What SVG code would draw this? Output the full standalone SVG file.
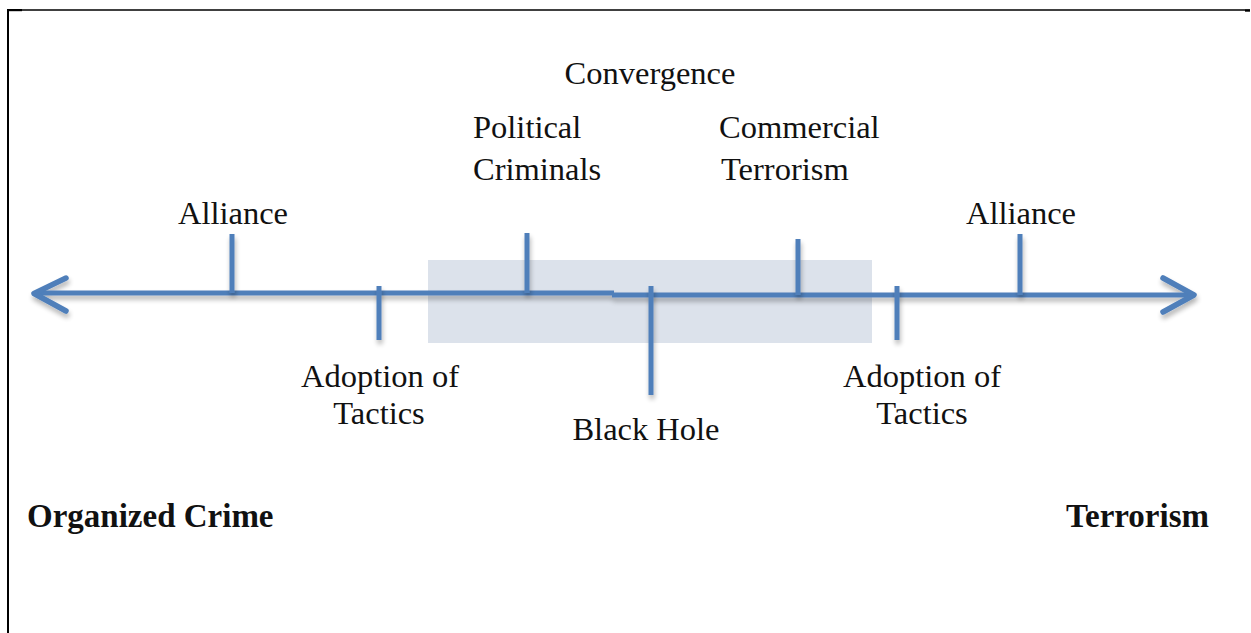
<svg xmlns="http://www.w3.org/2000/svg" width="1251" height="633" viewBox="0 0 1251 633">
<defs>
<filter id="sh" filterUnits="userSpaceOnUse" x="0" y="0" width="1251" height="633">
<feGaussianBlur in="SourceAlpha" stdDeviation="2.5"/>
<feOffset dx="1" dy="4" result="b"/>
<feComponentTransfer><feFuncA type="linear" slope="0.3"/></feComponentTransfer>
<feMerge><feMergeNode/><feMergeNode in="SourceGraphic"/></feMerge>
</filter>
</defs>
<style>
.ln{stroke:#4f7fba;stroke-width:5;fill:none;stroke-linecap:butt}
.ah{stroke:#4f7fba;stroke-width:5.5;fill:none;stroke-linecap:round;stroke-linejoin:round}
.t{font-family:"Liberation Serif","Times New Roman",serif;font-size:32.5px;fill:#111}
.b{font-family:"Liberation Serif","Times New Roman",serif;font-size:33px;font-weight:bold;fill:#111}
</style>
<rect width="1251" height="633" fill="#fff"/>
<g id="frame">
<line x1="7" y1="10" x2="1250" y2="10" stroke="#000" stroke-width="1.3"/>
<rect x="7" y="9" width="15" height="2.2" fill="#000"/>
<rect x="1245" y="9.5" width="5" height="2.2" fill="#000"/>
<rect x="7" y="9" width="2" height="624" fill="#000"/>
</g>
<g id="convergence-zone">
<rect x="428" y="260" width="444" height="83" fill="#dce2eb"/>
</g>
<g id="connectors" filter="url(#sh)">
<line class="ln" x1="36" y1="293" x2="614" y2="293"/>
<line class="ln" x1="612" y1="295" x2="1192" y2="295"/>
<polyline class="ah" points="66,278 34,293.5 66,311"/>
<polyline class="ah" points="1163,278 1194,295 1163,312"/>
</g>
<g id="alliance-left">
<line class="ln" x1="232" y1="234" x2="232" y2="293" filter="url(#sh)"/>
<text class="t" x="233" y="224" text-anchor="middle">Alliance</text>
</g>
<g id="adoption-left">
<line class="ln" x1="379" y1="286" x2="379" y2="340" filter="url(#sh)"/>
<text class="t" x="380" y="387" text-anchor="middle">Adoption of</text>
<text class="t" x="379" y="424" text-anchor="middle">Tactics</text>
</g>
<g id="political-criminals">
<line class="ln" x1="527" y1="233" x2="527" y2="293" filter="url(#sh)"/>
<text class="t" x="473" y="138">Political</text>
<text class="t" x="473" y="180">Criminals</text>
</g>
<g id="convergence">
<text class="t" x="650" y="84" text-anchor="middle">Convergence</text>
</g>
<g id="black-hole">
<line class="ln" x1="651" y1="286" x2="651" y2="395" filter="url(#sh)"/>
<text class="t" x="646" y="440" text-anchor="middle">Black Hole</text>
</g>
<g id="commercial-terrorism">
<line class="ln" x1="798" y1="239" x2="798" y2="295" filter="url(#sh)"/>
<text class="t" x="719" y="138">Commercial</text>
<text class="t" x="721" y="180">Terrorism</text>
</g>
<g id="adoption-right">
<line class="ln" x1="897" y1="286" x2="897" y2="340" filter="url(#sh)"/>
<text class="t" x="922" y="387" text-anchor="middle">Adoption of</text>
<text class="t" x="922" y="424" text-anchor="middle">Tactics</text>
</g>
<g id="alliance-right">
<line class="ln" x1="1020" y1="234" x2="1020" y2="295" filter="url(#sh)"/>
<text class="t" x="1021" y="224" text-anchor="middle">Alliance</text>
</g>
<g id="organized-crime">
<text class="b" x="27" y="527">Organized Crime</text>
</g>
<g id="terrorism">
<text class="b" x="1209" y="527" text-anchor="end">Terrorism</text>
</g>
</svg>
